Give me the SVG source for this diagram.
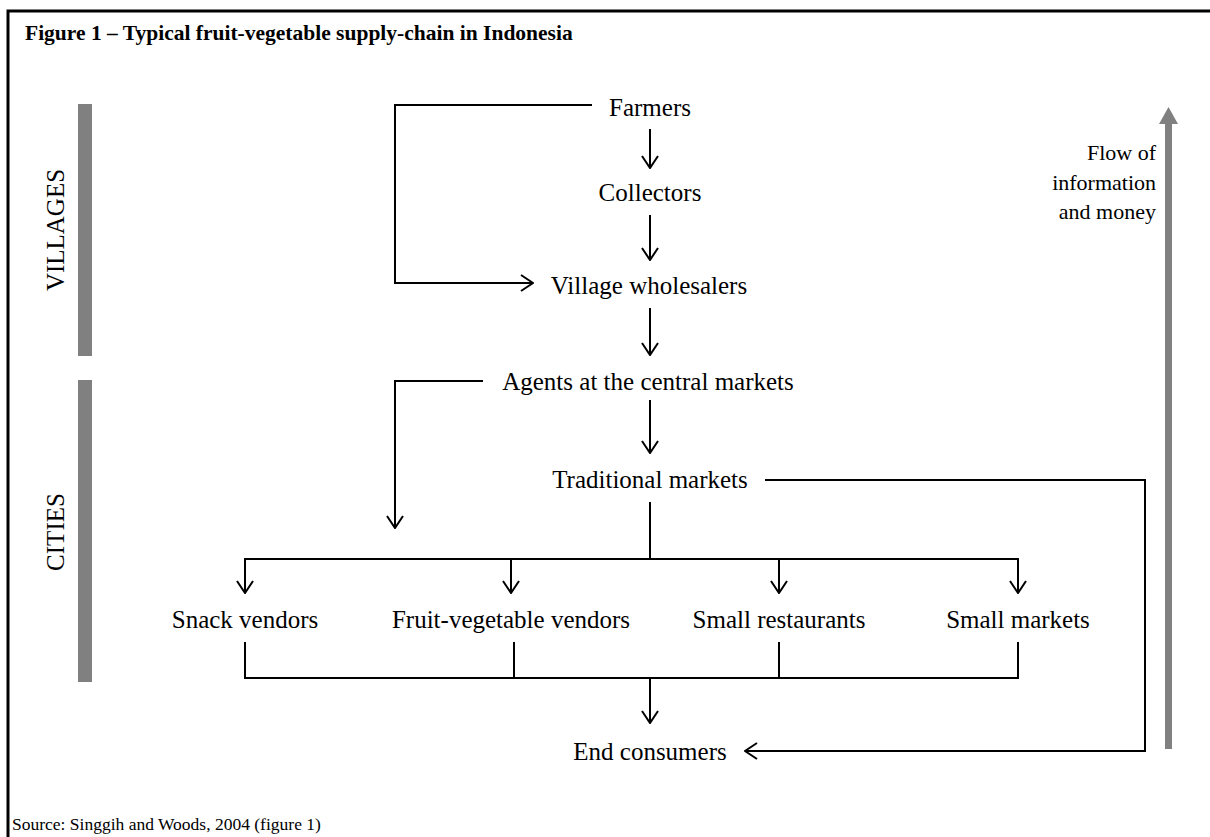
<svg xmlns="http://www.w3.org/2000/svg" width="1210" height="837" viewBox="0 0 1210 837">
<style>
  .t { font-family: "Liberation Serif", "Times New Roman", serif; font-size: 25px; fill: #000; }
  .c { text-anchor: middle; }
  .f { font-family: "Liberation Serif", "Times New Roman", serif; font-size: 22px; fill: #000; text-anchor: end; }
  .title { font-family: "Liberation Serif", "Times New Roman", serif; font-size: 21.5px; font-weight: bold; fill: #000; }
  .src { font-family: "Liberation Serif", "Times New Roman", serif; font-size: 17.5px; fill: #000; }
  .ln { fill: none; stroke: #000; stroke-width: 2; }
  .bar { fill: #808080; }
</style>
<defs>
  <marker id="ah" viewBox="0 0 14 18" refX="13" refY="9" markerWidth="14" markerHeight="18" markerUnits="userSpaceOnUse" orient="auto">
    <path d="M1,1 L13,9 L1,17" fill="none" stroke="#000" stroke-width="2"/>
  </marker>
</defs>
<rect width="1210" height="837" fill="#fff"/>
<path d="M8,837 V11 H1212" fill="none" stroke="#000" stroke-width="3"/>
<text class="title" x="25" y="40">Figure 1 – Typical fruit-vegetable supply-chain in Indonesia</text>

<g id="villages-band">
  <rect class="bar" x="78" y="104" width="14" height="252"/>
  <text class="t c" transform="translate(64,230) rotate(-90)">VILLAGES</text>
</g>
<g id="cities-band">
  <rect class="bar" x="78" y="380" width="14" height="302"/>
  <text class="t c" transform="translate(64,532) rotate(-90)">CITIES</text>
</g>
<g id="flow-arrow">
  <rect class="bar" x="1165" y="122" width="7" height="627"/>
  <polygon class="bar" points="1168.5,107 1178,124 1159,124"/>
  <text class="f" x="1156" y="160">Flow of</text>
  <text class="f" x="1156" y="190">information</text>
  <text class="f" x="1156" y="219">and money</text>
</g>

<g id="farmers"><text class="t c" x="650" y="116">Farmers</text></g>
<g id="collectors"><text class="t c" x="650" y="201">Collectors</text></g>
<g id="village-wholesalers"><text class="t c" x="649" y="294">Village wholesalers</text></g>
<g id="agents"><text class="t c" x="648" y="390">Agents at the central markets</text></g>
<g id="traditional-markets"><text class="t c" x="650" y="488">Traditional markets</text></g>
<g id="snack-vendors"><text class="t c" x="245" y="628">Snack vendors</text></g>
<g id="fruit-vegetable-vendors"><text class="t c" x="511" y="628">Fruit-vegetable vendors</text></g>
<g id="small-restaurants"><text class="t c" x="779" y="628">Small restaurants</text></g>
<g id="small-markets"><text class="t c" x="1018" y="628">Small markets</text></g>
<g id="end-consumers"><text class="t c" x="650" y="760">End consumers</text></g>

<g id="connectors">
  <line class="ln" x1="650" y1="129" x2="650" y2="168" marker-end="url(#ah)"/>
  <line class="ln" x1="650" y1="215" x2="650" y2="260" marker-end="url(#ah)"/>
  <line class="ln" x1="650" y1="308" x2="650" y2="355" marker-end="url(#ah)"/>
  <line class="ln" x1="650" y1="400" x2="650" y2="453" marker-end="url(#ah)"/>
  <path class="ln" d="M592,105 H395 V283 H533" marker-end="url(#ah)"/>
  <path class="ln" d="M483,381 H395 V528" marker-end="url(#ah)"/>
  <path class="ln" d="M765,480 H1145 V751 H745" marker-end="url(#ah)"/>
  <path class="ln" d="M650,502 V559"/>
  <path class="ln" d="M245,559 H1018"/>
  <line class="ln" x1="245" y1="558" x2="245" y2="593" marker-end="url(#ah)"/>
  <line class="ln" x1="511" y1="558" x2="511" y2="593" marker-end="url(#ah)"/>
  <line class="ln" x1="779" y1="558" x2="779" y2="593" marker-end="url(#ah)"/>
  <line class="ln" x1="1018" y1="558" x2="1018" y2="593" marker-end="url(#ah)"/>
  <path class="ln" d="M245,642 V678 H1018 V642"/>
  <line class="ln" x1="514" y1="642" x2="514" y2="678"/>
  <line class="ln" x1="779" y1="642" x2="779" y2="678"/>
  <line class="ln" x1="650" y1="678" x2="650" y2="723" marker-end="url(#ah)"/>
</g>
<text class="src" x="12" y="830">Source: Singgih and Woods, 2004 (figure 1)</text>
</svg>
